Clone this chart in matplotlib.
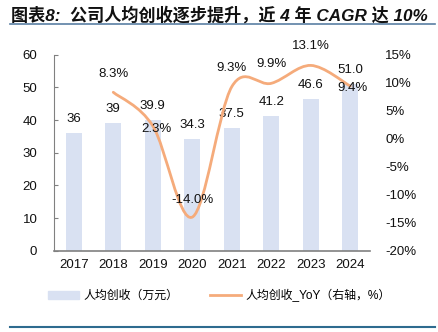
import numpy as np
import matplotlib.pyplot as plt
from matplotlib.path import Path
from matplotlib.patches import PathPatch
from matplotlib.lines import Line2D

plt.rcParams['font.family'] = ['Liberation Sans', 'Noto Sans CJK SC', 'DejaVu Sans']

years = ['2017', '2018', '2019', '2020', '2021', '2022', '2023', '2024']
revenue = [36, 39, 39.9, 34.3, 37.5, 41.2, 46.6, 51.0]
revenue_labels = ['36', '39', '39.9', '34.3', '37.5', '41.2', '46.6', '51.0']
yoy = [8.3, 2.3, -14.0, 9.3, 9.9, 13.1, 9.4]   # from 2018 on
yoy_labels = ['8.3%', '2.3%', '-14.0%', '9.3%', '9.9%', '13.1%', '9.4%']
# label offsets in pixels for the yoy labels
yoy_offsets = [(0, 18), (4, -3), (0, 17), (0, 19), (0, 19), (0, 19), (2, -2)]

bar_color = '#D9E1F2'
line_color = '#F5AB7B'

fig = plt.figure(figsize=(4.39, 3.32), dpi=100)
ax = fig.add_axes([0.123, 0.245, 0.72, 0.59])
ax2 = ax.twinx()

x = np.arange(len(years))
ax.bar(x, revenue, width=0.4, color=bar_color, zorder=1)
for xi, v, s in zip(x, revenue, revenue_labels):
    ax.annotate(s, (xi, v), xytext=(0, 14), textcoords='offset pixels',
                ha='center', va='center', fontsize=9.5, color='#111111')

ax.set_xlim(-0.5, len(years) - 0.5)
ax.set_ylim(0, 60)
ax.set_yticks(range(0, 61, 10))
ax.set_xticks(x)
ax.set_xticklabels(years)

# smoothed line (Excel style) drawn as bezier segments through the points
xs = x[1:]
ys = np.array(yoy)
px = np.concatenate([[xs[0]], xs, [xs[-1]]])
py = np.concatenate([[ys[0]], ys, [ys[-1]]])
verts = [(xs[0], ys[0])]
codes = [Path.MOVETO]
for i in range(1, len(px) - 2):
    c1 = (px[i] + (px[i + 1] - px[i - 1]) / 6, py[i] + (py[i + 1] - py[i - 1]) / 6)
    c2 = (px[i + 1] - (px[i + 2] - px[i]) / 6, py[i + 1] - (py[i + 2] - py[i]) / 6)
    verts += [c1, c2, (px[i + 1], py[i + 1])]
    codes += [Path.CURVE4] * 3
ax2.add_patch(PathPatch(Path(verts, codes), facecolor='none', edgecolor=line_color,
                        lw=2.0, capstyle='round', zorder=3))
for xi, v, s, off in zip(xs, yoy, yoy_labels, yoy_offsets):
    ax2.annotate(s, (xi, v), xytext=off, textcoords='offset pixels',
                 ha='center', va='center', fontsize=9.5, color='#111111', zorder=4)

ax2.set_ylim(-20, 15)
ax2.set_yticks(range(-20, 16, 5))
ax2.set_yticklabels([f'{t}%' for t in range(-20, 16, 5)])

for a in (ax, ax2):
    for side in ('top', 'right'):
        a.spines[side].set_visible(False)
ax2.spines['left'].set_visible(False)
ax2.spines['bottom'].set_visible(False)
ax.spines['left'].set_color('#808080')
ax.spines['bottom'].set_color('#808080')
ax.spines['bottom'].set_linewidth(1.2)
ax.tick_params(axis='y', direction='in', length=3, color='#808080', pad=12,
               labelsize=9.5, labelcolor='#111111')
ax.tick_params(axis='x', length=0, pad=6, labelsize=9.5, labelcolor='#111111')
ax2.tick_params(axis='y', length=0, pad=11, labelsize=9.5, labelcolor='#111111')

# legend
handles = [plt.Rectangle((0, 0), 1, 1, color=bar_color),
           Line2D([0], [0], color=line_color, lw=2)]
fig.legend(handles, ['人均创收（万元）', '人均创收_YoY（右轴，%）'],
           loc='center', bbox_to_anchor=(0.5, 0.11), ncol=2, frameon=False,
           fontsize=8.6, handlelength=2.6, columnspacing=2.6, handletextpad=0.4)

fig.text(0.025, 0.955, '图表8:  公司人均创收逐步提升，近 4 年 CAGR 达 10%',
         fontsize=12.3, fontweight='bold', style='italic', ha='left', va='center',
         color='#111111')
fig.add_artist(Line2D([0.023, 0.99], [0.928, 0.928], color='#5A7FA3', lw=1.2))
fig.add_artist(Line2D([0.023, 0.99], [0.014, 0.014], color='#2E6B8F', lw=1.5))

fig.savefig('out.png', dpi=100)
